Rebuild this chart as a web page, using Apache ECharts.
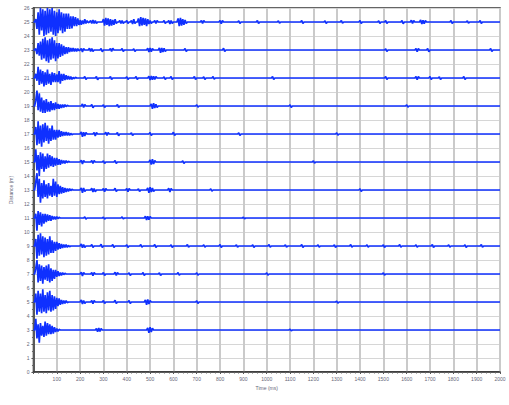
<!DOCTYPE html>
<html>
<head>
<meta charset="utf-8">
<script src="https://cdn.jsdelivr.net/npm/echarts@6/dist/echarts.min.js"></script>
<style>
html,body{margin:0;padding:0;background:#fff;}
#chart{width:509px;height:405px;}
</style>
</head>
<body>
<div id="chart"></div>
<script>
// trace offsets (distance, m), top to bottom
var distances = [25, 23, 21, 19, 17, 15, 13, 11, 9, 7, 5, 3];
// first arrival burst, one value every 5 ms from 0 ms
var burstStep = 5;
var bursts = [
  [0,0,0.2,-0.5,0.7,-0.9,1.0,-0.6,0.9,-1.0,0.8,-0.9,1.0,-0.8,0.9,-0.7,1.0,-0.9,0.8,-1.0,0.7,-0.8,0.9,-0.6,0.7,-0.8,0.6,-0.7,0.6,-0.5,0.6,-0.5,0.4,-0.45,0.4,-0.3,0.35,-0.3,0.25,-0.2],
  [0,0,0.1,-0.3,0.5,-0.4,0.6,-0.7,0.8,-0.6,0.9,-0.8,0.7,-0.9,0.8,-0.7,0.9,-0.6,0.7,-0.8,0.5,-0.6,0.5,-0.5,0.4,-0.4,0.3,-0.3,0.2,-0.25,0.2,-0.15,0.15,-0.1,0.15,-0.1,0.1,-0.1,0.1,-0.05],
  [0,0,0.3,-0.2,0.8,-0.5,0.6,-0.4,0.5,-0.6,0.4,-0.5,0.6,-0.4,0.3,-0.5,0.4,-0.3,0.35,-0.3,0.25,-0.3,0.5,-0.4,0.3,-0.2,0.3,-0.15,0.2,-0.1,0.15,-0.1,0.1,-0.1,0.05,-0.05,0.05,0,0,0],
  [0,0,0.4,1.1,-0.3,0.9,-0.4,0.6,-0.5,0.4,-0.5,0.5,-0.4,0.3,-0.4,0.35,-0.3,0.2,-0.3,0.25,-0.2,0.15,-0.2,0.1,-0.15,0.1,-0.1,0.1,-0.05,0.05,0,0,0,0,0,0,0,0,0,0],
  [0,0,0.5,-0.8,0.9,-0.7,0.6,-0.9,0.7,-0.6,0.8,-0.5,0.6,-0.7,0.4,-0.5,0.6,-0.4,0.3,-0.4,0.3,-0.25,0.3,-0.2,0.2,-0.15,0.15,-0.1,0.15,-0.1,0.1,-0.1,0.05,-0.05,0,0,0,0,0,0],
  [0,0,0.9,-0.6,0.5,-1.0,0.7,-0.5,0.6,-0.7,0.4,-0.5,0.6,-0.4,0.5,-0.3,0.4,-0.35,0.3,-0.25,0.3,-0.2,0.2,-0.2,0.15,-0.1,0.1,-0.1,0.1,-0.05,0.05,0,0,0,0,0,0,0,0,0],
  [0,0,0.6,1.2,-0.5,0.8,-0.9,0.5,-0.6,0.7,-0.5,0.4,-0.6,0.5,-0.4,0.3,-0.5,0.8,-0.4,0.6,-0.5,0.4,-0.3,0.3,-0.25,0.2,-0.2,0.15,-0.15,0.1,-0.1,0.1,-0.05,0.05,0,0,0,0,0,0],
  [0,0,0.3,-0.9,0.5,-0.5,0.4,-0.6,0.3,-0.4,0.3,-0.3,0.25,-0.2,0.2,-0.2,0.15,-0.1,0.1,-0.1,0.1,-0.05,0.05,0,0,0,0,0,0,0,0,0,0,0,0,0,0,0,0,0],
  [0,0,0.5,-0.9,0.8,-0.7,0.9,-0.6,0.7,-0.8,0.6,-0.7,0.5,-0.6,0.7,-0.5,0.4,-0.5,0.3,-0.35,0.3,-0.25,0.2,-0.2,0.15,-0.15,0.1,-0.1,0.1,-0.1,0.05,-0.05,0,0,0,0,0,0,0,0],
  [0,0,0.4,1.0,-0.6,0.7,-0.5,0.6,-0.7,0.5,-0.4,0.6,-0.5,0.7,-0.6,0.4,-0.5,0.3,-0.35,0.3,-0.2,0.2,-0.15,0.1,-0.1,0.1,-0.05,0.05,0,0,0,0,0,0,0,0,0,0,0,0],
  [0,0,0.6,-0.9,0.8,-0.7,0.6,-0.8,0.9,-0.7,0.5,-0.8,0.7,-0.6,0.8,-0.7,0.5,-0.6,0.4,-0.5,0.3,-0.3,0.25,-0.2,0.15,-0.15,0.1,-0.1,0.1,-0.05,0,0,0,0,0,0,0,0,0,0],
  [0,0,0.8,-0.6,0.4,-0.9,0.5,-0.4,0.3,-0.5,0.6,-0.4,0.5,-0.3,0.4,-0.3,0.3,-0.25,0.2,-0.15,0.1,-0.1,0.05,0,0,0,0,0,0,0,0,0,0,0,0,0,0,0,0,0]
];
// later wiggles: [start ms, values every 5 ms]
var tails = [
  [[200,[0.15,-0.2,0.1,-0.15,0.2,-0.1,0.1,-0.05]],[245,[0.1,-0.1,0.15,-0.1,0.1,-0.1]],[300,[0.2,-0.25,0.3,-0.2,0.25,-0.3,0.2,-0.25,0.15,-0.2,0.2,-0.1]],
   [370,[0.1,-0.1,0.1,-0.1]],[400,[0.1,-0.1]],[420,[0.1,-0.15,0.2,-0.1]],[450,[0.25,-0.3,0.35,-0.25,0.3,-0.2,0.25,-0.3,0.2,-0.15,0.1,-0.1]],[520,[0.1,-0.1,0.1]],
   [560,[0.1,-0.1]],[580,[0.1,-0.15,0.1,-0.1]],[620,[0.25,-0.3,0.3,-0.25,0.2,-0.2,0.15,-0.1]],[720,[0.1,-0.1,0.1]],[800,[0.1,-0.12,0.1]],[880,[0.08,-0.1]],
   [960,[0.1,-0.1]],[1050,[0.08,-0.08]],[1150,[0.1,-0.1]],[1250,[0.08,-0.1]],[1320,[0.1,-0.08]],[1400,[0.1,-0.1]],[1480,[0.08,-0.1]],
   [1510,[0.1,-0.1]],[1580,[0.1,-0.12]],[1620,[0.12,-0.1,0.1]],[1660,[0.15,-0.15,0.12,-0.12,0.1]],[1790,[0.1,-0.1]],[1860,[0.08,-0.08]],[1915,[0.1,-0.1]]],
  [[205,[0.1,-0.15,0.1]],[240,[0.12,-0.1,0.1,-0.1]],[290,[0.1,-0.12]],[330,[0.1,-0.1,0.12]],[380,[0.1,-0.1]],[430,[0.08,-0.1]],
   [490,[0.12,-0.15,0.15,-0.12,0.1]],[540,[0.15,-0.2,0.15,-0.15,0.12,-0.1]],[650,[0.1,-0.1]],[815,[0.12,-0.1]],[1510,[0.08,-0.1]],
   [1640,[0.1,-0.12,0.1]],[1690,[0.1,-0.12]],[1960,[0.1,-0.1]]],
  [[220,[0.1,-0.1]],[270,[0.1,-0.12]],[330,[0.1,-0.1]],[400,[0.08,-0.1]],[440,[0.1,-0.1]],[495,[0.12,-0.15,0.15,-0.12,0.12,-0.1,0.1]],
   [560,[0.08,-0.1]],[590,[0.1,-0.1]],[690,[0.1,-0.1]],[730,[0.08,-0.1]],[770,[0.1,-0.08]],[1025,[0.1,-0.1]],[1510,[0.1,-0.1]],
   [1640,[0.1,-0.12,0.1]],[1700,[0.1,-0.1]],[1740,[0.08,-0.1]],[1845,[0.1,-0.1]]],
  [[210,[0.15,-0.1,0.1]],[250,[0.1,-0.12]],[300,[0.08,-0.1]],[360,[0.1,-0.1]],[505,[0.15,-0.2,0.2,-0.15,0.12,-0.1]],[700,[0.08,-0.08]],
   [1100,[0.08,-0.1]],[1600,[0.08,-0.08]]],
  [[205,[0.15,-0.2,0.12,-0.15,0.1]],[260,[0.1,-0.15,0.1]],[310,[0.12,-0.1,0.1]],[360,[0.1,-0.12]],[420,[0.08,-0.1]],[500,[0.1,-0.1]],
   [600,[0.12,-0.1]],[880,[0.08,-0.1]],[1300,[0.08,-0.08]]],
  [[205,[0.12,-0.15,0.1]],[250,[0.1,-0.1,0.1]],[300,[0.08,-0.1]],[350,[0.1,-0.1]],[500,[0.15,-0.18,0.2,-0.15,0.1]],[640,[0.08,-0.1]],
   [1200,[0.08,-0.08]]],
  [[205,[0.15,-0.2,0.15,-0.1]],[250,[0.12,-0.15,0.1,-0.12]],[300,[0.1,-0.12,0.1]],[350,[0.12,-0.1]],[400,[0.1,-0.12,0.1]],[450,[0.08,-0.1]],
   [490,[0.15,-0.2,0.2,-0.15,0.15,-0.1]],[580,[0.12,-0.15,0.1]],[760,[0.08,-0.08]],[1400,[0.08,-0.1]]],
  [[220,[0.08,-0.08]],[300,[0.06,-0.08]],[380,[0.08,-0.06]],[480,[0.12,-0.15,0.12,-0.12,0.1]],[900,[0.06,-0.06]]],
  [[205,[0.15,-0.12,0.1,-0.1]],[250,[0.1,-0.1]],[290,[0.12,-0.1]],[340,[0.1,-0.1]],[400,[0.08,-0.1]],[460,[0.1,-0.08]],[520,[0.1,-0.1]],
   [590,[0.08,-0.1]],[660,[0.1,-0.08]],[730,[0.08,-0.08]],[800,[0.1,-0.1]],[870,[0.08,-0.08]],[940,[0.08,-0.1]],[1010,[0.1,-0.08]],
   [1080,[0.08,-0.08]],[1150,[0.1,-0.1]],[1220,[0.08,-0.08]],[1290,[0.08,-0.1]],[1360,[0.1,-0.08]],[1430,[0.08,-0.08]],[1500,[0.08,-0.1]],
   [1570,[0.1,-0.08]],[1640,[0.08,-0.08]],[1710,[0.1,-0.1]],[1780,[0.08,-0.08]],[1850,[0.08,-0.1]],[1920,[0.1,-0.08]]],
  [[205,[0.12,-0.15,0.1]],[250,[0.1,-0.12,0.1]],[300,[0.1,-0.1]],[350,[0.12,-0.1,0.1]],[410,[0.08,-0.1]],[470,[0.1,-0.1]],[540,[0.08,-0.1]],
   [620,[0.1,-0.08]],[700,[0.08,-0.08]],[1000,[0.08,-0.08]],[1500,[0.08,-0.08]]],
  [[205,[0.15,-0.15,0.1,-0.1]],[250,[0.1,-0.12,0.1]],[300,[0.1,-0.1]],[350,[0.12,-0.1]],[410,[0.1,-0.1]],[480,[0.15,-0.2,0.18,-0.15,0.1]],
   [700,[0.08,-0.1]],[1300,[0.06,-0.08]]],
  [[270,[0.1,-0.12,0.15,-0.1,0.1]],[490,[0.15,-0.2,0.2,-0.15,0.12]],[1100,[0.05,-0.06]]]
];
var xTickMin = 0, xTickMax = 2000, xTickStep = 100;
var yTickMin = 0, yTickMax = 26, yTickStep = 1;

function buildTrace(base, burst, tail) {
  var pts = [];
  burst.forEach(function (a, i) { pts.push([i * burstStep, base + a]); });
  pts.push([burst.length * burstStep, base]);
  tail.forEach(function (g) {
    var t0 = g[0];
    if (t0 - burstStep > pts[pts.length - 1][0]) pts.push([t0 - burstStep, base]);
    g[1].forEach(function (a, i) { pts.push([t0 + i * burstStep, base + a]); });
    pts.push([t0 + g[1].length * burstStep, base]);
  });
  pts.push([xTickMax, base]);
  return pts;
}

// svg renderer keeps every closely spaced sample
var chart = echarts.init(document.getElementById('chart'), null, {renderer: 'svg'});
var series = distances.map(function (d, i) {
  return {
    type: 'line',
    data: buildTrace(d, bursts[i], tails[i]),
    showSymbol: false,
    symbol: 'none',
    lineStyle: {color: '#0f30ff', width: 1.7},
    z: 3
  };
});

var option = {
  animation: false,
  grid: {left: 22, right: 9, top: 8, bottom: 33, show: true, borderColor: '#333', borderWidth: 1.5},
  xAxis: {
    type: 'value', min: xTickMin, max: xTickMax, interval: xTickStep,
    name: 'Time (ms)', nameLocation: 'middle', nameGap: 12,
    nameTextStyle: {fontSize: 5, color: '#667'},
    axisLine: {lineStyle: {color: '#333', width: 1.5}},
    axisTick: {show: true, length: 2, lineStyle: {color: '#555'}},
    minorTick: {show: true, splitNumber: 5, length: 1.5, lineStyle: {color: '#666'}},
    axisLabel: {fontSize: 5, color: '#667', margin: 4, showMinLabel: false,
      formatter: function (v) { return String(v); }},
    splitLine: {show: true, lineStyle: {color: '#cacaca', width: 2}}
  },
  yAxis: {
    type: 'value', min: yTickMin, max: yTickMax, interval: yTickStep,
    name: 'Distance (m)', nameLocation: 'middle', nameGap: 13,
    nameTextStyle: {fontSize: 5, color: '#667'},
    axisLine: {show: true, lineStyle: {color: '#333', width: 1.5}},
    axisTick: {show: true, length: 2, lineStyle: {color: '#555'}},
    minorTick: {show: true, splitNumber: 2, length: 1.5, lineStyle: {color: '#666'}},
    axisLabel: {fontSize: 5, color: '#667', margin: 4},
    splitLine: {show: true, lineStyle: {color: '#d6d6d6', width: 1}}
  },
  series: series
};
chart.setOption(option);
</script>
</body>
</html>
